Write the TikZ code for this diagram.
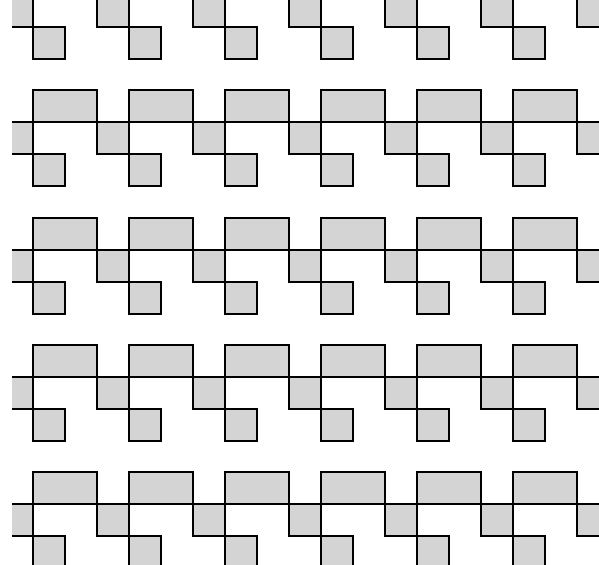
\documentclass[tikz,border=0pt]{standalone}
\begin{document}
\begin{tikzpicture}[x=0.025cm, y=-0.025cm,
    cell/.style={draw=black, line width=1.4pt, fill=black!17},
    axisline/.style={draw=black, line width=2pt}]
                % Frame of the sheet
                \useasboundingbox (0,0) rectangle (599,565);
                \clip (12,0) rectangle (599,565);
                % Rows: box above the axis, two squares stepping down below it
                \foreach \ya in {-5,122,250,377,504} {
                    \foreach \xa in {-63,33,...,513} {
                        \filldraw[cell] (\xa,\ya) rectangle ++(64,-32);
                        \filldraw[cell] ({\xa+64},\ya) rectangle ++(32,32);
                        \filldraw[cell] ({\xa+96},{\ya+32}) rectangle ++(32,32);
                    }
                    % Axis of the row
                    \draw[axisline] (17,\ya) -- (599,\ya);
                }
            \end{tikzpicture}
\end{document}
